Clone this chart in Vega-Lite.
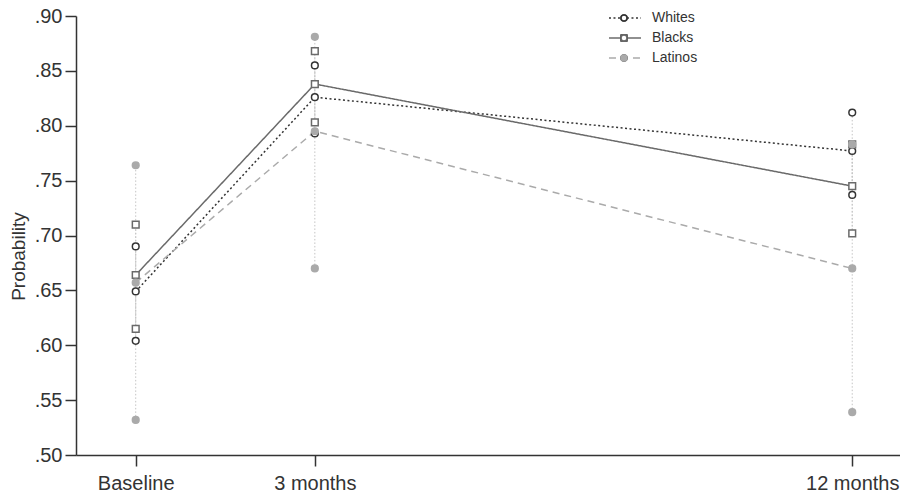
{
  "$schema": "https://vega.github.io/schema/vega-lite/v6.json",
  "width": 824,
  "height": 439,
  "autosize": {"type": "none"},
  "padding": {"left": 76, "top": 16, "right": 0, "bottom": 43},
  "config": {
    "view": {"stroke": null},
    "font": "Liberation Sans",
    "axis": {"grid": false, "domainColor": "#333", "domainWidth": 1.5, "tickColor": "#333", "tickWidth": 1.5, "tickSize": 11, "labelColor": "#333", "labelFontSize": 20, "titleColor": "#333", "titleFontSize": 19, "titleFontWeight": "normal"},
    "legend": {"padding": 0}
  },
  "data": {
    "values": [
      {"month": 0, "group": "Whites", "est": 0.649, "lo": 0.604, "hi": 0.690},
      {"month": 3, "group": "Whites", "est": 0.826, "lo": 0.793, "hi": 0.855},
      {"month": 12, "group": "Whites", "est": 0.777, "lo": 0.737, "hi": 0.812},
      {"month": 0, "group": "Blacks", "est": 0.664, "lo": 0.615, "hi": 0.710},
      {"month": 3, "group": "Blacks", "est": 0.838, "lo": 0.803, "hi": 0.868},
      {"month": 12, "group": "Blacks", "est": 0.745, "lo": 0.702, "hi": 0.783},
      {"month": 0, "group": "Latinos", "est": 0.657, "lo": 0.532, "hi": 0.764},
      {"month": 3, "group": "Latinos", "est": 0.795, "lo": 0.670, "hi": 0.881},
      {"month": 12, "group": "Latinos", "est": 0.670, "lo": 0.539, "hi": 0.783}
    ]
  },
  "encoding": {
    "x": {
      "field": "month", "type": "quantitative",
      "scale": {"domain": [-1, 12.8], "nice": false, "zero": false},
      "axis": {"values": [0, 3, 12], "title": null, "labelPadding": 7, "labelFlush": false,
        "labelExpr": "datum.value == 0 ? 'Baseline' : datum.value == 3 ? '3 months' : '12 months'"}
    }
  },
  "layer": [
    {
      "mark": {"type": "rule", "color": "#c4c4c4", "strokeDash": [1.5, 2], "strokeWidth": 1},
      "encoding": {
        "y": {"field": "lo", "type": "quantitative",
          "scale": {"domain": [0.5, 0.9], "nice": false, "zero": false},
          "axis": {"values": [0.5, 0.55, 0.6, 0.65, 0.7, 0.75, 0.8, 0.85, 0.9], "title": "Probability",
            "labelExpr": "substring(format(datum.value, '.2f'), 1)", "labelPadding": 3,
            "titleAngle": -90, "titleX": -58, "titleY": 240, "titleBaseline": "middle", "titleAlign": "center"}},
        "y2": {"field": "hi"}
      }
    },
    {
      "mark": {"type": "line", "strokeWidth": 1.5},
      "encoding": {
        "y": {"field": "est", "type": "quantitative"},
        "color": {"field": "group", "type": "nominal",
          "scale": {"domain": ["Whites", "Blacks", "Latinos"], "range": ["#333333", "#6a6a6a", "#aaaaaa"]},
          "legend": {"title": null, "orient": "none", "legendX": 542, "legendY": -5, "symbolType": "M-3,0L3,0",
            "symbolSize": 114, "symbolStrokeWidth": 1.5, "labelFontSize": 14, "labelColor": "#333", "rowPadding": 6, "labelOffset": 20}},
        "strokeDash": {"field": "group", "type": "nominal",
          "scale": {"domain": ["Whites", "Blacks", "Latinos"], "range": [[2, 2.5], [1, 0], [7, 5]]}}
      }
    },
    {
      "transform": [
        {"fold": ["est", "lo", "hi"], "as": ["stat", "p"]},
        {"calculate": "datum.group", "as": "marker"}
      ],
      "mark": {"type": "point", "filled": true, "strokeWidth": 1.5, "opacity": 1},
      "encoding": {
        "y": {"field": "p", "type": "quantitative"},
        "shape": {"field": "marker", "type": "nominal", "sort": ["Whites", "Blacks", "Latinos"],
          "scale": {"range": ["circle", "square", "circle"]},
          "legend": {"title": null, "orient": "none", "legendX": 541, "legendY": -5,
            "labelFontSize": 14, "labelColor": "transparent", "rowPadding": 6, "symbolSize": 36, "symbolStrokeWidth": 1.5,
            "symbolFillColor": "transparent", "symbolStrokeColor": "#333333"}},
        "stroke": {"field": "marker", "type": "nominal", "sort": ["Whites", "Blacks", "Latinos"],
          "scale": {"range": ["#333333", "#6a6a6a", "#aaaaaa"]},
          "legend": {"title": null, "orient": "none", "legendX": 541, "legendY": -5,
            "labelFontSize": 14, "labelColor": "transparent", "rowPadding": 6, "symbolSize": 36, "symbolStrokeWidth": 1.5,
            "symbolFillColor": "transparent", "symbolStrokeColor": "#333333"}},
        "fill": {"field": "marker", "type": "nominal", "sort": ["Whites", "Blacks", "Latinos"],
          "scale": {"range": ["white", "white", "#aaaaaa"]},
          "legend": {"title": null, "orient": "none", "legendX": 541, "legendY": -5,
            "labelFontSize": 14, "labelColor": "transparent", "rowPadding": 6, "symbolSize": 36, "symbolStrokeWidth": 1.5,
            "symbolStrokeColor": "transparent"}},
        "size": {"value": 45}
      }
    }
  ]
}
